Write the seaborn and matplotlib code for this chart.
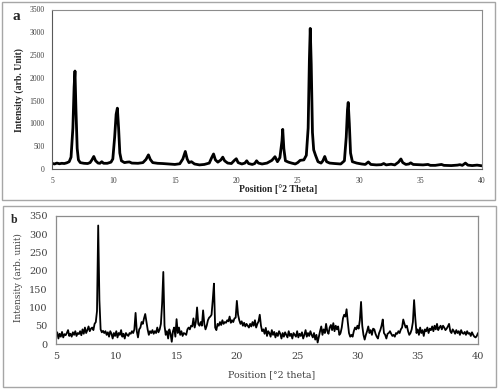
import numpy as np
import pandas as pd
import matplotlib
matplotlib.use("Agg")
import matplotlib.pyplot as plt
from matplotlib.patches import Rectangle
import seaborn as sns

# ---------------- Data: panel a (XRD pattern) ----------------
a_theta = [5.0, 5.2, 5.4, 5.6, 5.8, 6.0, 6.2, 6.4, 6.55, 6.7, 6.8, 6.87, 6.95, 7.05, 7.15, 7.3, 7.6, 7.9,
           8.1, 8.25, 8.4, 8.55, 8.75, 8.9, 9.05, 9.2, 9.5, 9.8, 9.95, 10.1, 10.22, 10.32, 10.42, 10.52,
           10.65, 10.9, 11.1, 11.3, 11.5, 12.0, 12.4, 12.65, 12.85, 13.0, 13.2, 13.6, 14.0, 14.5, 15.0,
           15.4, 15.65, 15.85, 16.0, 16.15, 16.35, 16.6, 17.0, 17.4, 17.8, 18.0, 18.15, 18.3, 18.5, 18.75,
           18.9, 19.05, 19.3, 19.6, 19.85, 20.0, 20.15, 20.45, 20.7, 20.85, 21.0, 21.3, 21.5, 21.65, 21.8,
           22.1, 22.5, 22.9, 23.15, 23.35, 23.55, 23.72, 23.78, 23.87, 24.0, 24.25, 24.5, 24.8, 25.0, 25.2,
           25.5, 25.7, 25.85, 25.95, 26.02, 26.1, 26.2, 26.3, 26.45, 26.65, 26.9, 27.05, 27.2, 27.35, 27.6,
           28.0, 28.5, 28.8, 28.95, 29.05, 29.11, 29.2, 29.3, 29.45, 29.8, 30.2, 30.5, 30.75, 30.95, 31.4,
           31.8, 32.0, 32.2, 32.6, 32.9, 33.2, 33.4, 33.55, 33.8, 34.05, 34.2, 34.4, 34.8, 35.2, 35.6, 35.8,
           36.2, 36.7, 36.9, 37.5, 38.0, 38.2, 38.4, 38.65, 38.85, 39.2, 39.6, 40.0]
a_intensity = [125, 110, 130, 115, 125, 120, 135, 160, 260, 900, 1800, 2150, 1300, 450, 200, 140, 125, 120,
               140, 200, 275, 180, 130, 125, 160, 125, 125, 150, 220, 700, 1200, 1335, 900, 350,
               180, 140, 150, 155, 130, 125, 140, 210, 310, 210, 140, 125, 120, 110, 100,
               115, 220, 385, 220, 140, 160, 110, 90, 100, 130, 250, 330, 200, 150, 200,
               260, 180, 130, 120, 190, 225, 140, 110, 130, 180, 120, 100, 120, 180, 130,
               110, 130, 190, 270, 160, 250, 620, 870, 450, 180, 150, 130, 110, 140, 190,
               200, 300, 900, 2400, 3085, 2300, 800, 420, 300, 160, 130, 180, 275, 160, 130,
               120, 110, 180, 700, 1300, 1460, 1000, 350, 160, 130, 110, 100, 155, 100, 90,
               95, 120, 90, 105, 90, 150, 220, 140, 100, 110, 135, 100, 95, 90, 100, 80,
               80, 100, 80, 75, 85, 95, 80, 130, 85, 75, 85, 70]

a_xticks = [5, 10, 15, 20, 25, 30, 35, 40]
a_yticks = [0, 500, 1000, 1500, 2000, 2500, 3000, 3500]

# ---------------- Data: panel b (XRD pattern, 0.1 deg step from 5 to 40) ----------------
b_theta = [round(5 + 0.1 * i, 1) for i in range(351)]
b_intensity = (
    [22, 32, 15, 28, 20, 33, 18, 27, 24, 30] +       # 5
    [38, 22, 28, 20, 32, 25, 35, 22, 30, 27] +       # 6
    [35, 24, 40, 28, 45, 30, 38, 48, 35, 42] +       # 7
    [45, 38, 55, 60, 90, 324, 120, 40, 32, 36] +     # 8
    [30, 35, 25, 32, 20, 35, 28, 15, 30, 22] +       # 9
    [35, 18, 30, 25, 38, 20, 28, 15, 30, 25] +       # 10
    [22, 30, 28, 35, 30, 40, 85, 35, 18, 40] +       # 11
    [45, 60, 55, 70, 82, 60, 40, 25, 35, 30] +       # 12
    [38, 28, 35, 30, 45, 32, 40, 55, 110, 197] +     # 13
    [50, 25, 35, 15, 40, 28, 6, 35, 45, 20] +        # 14
    [68, 30, 45, 25, 35, 22, 30, 28, 25, 40] +       # 15
    [45, 40, 50, 48, 70, 45, 60, 100, 55, 50] +      # 16
    [60, 50, 92, 55, 40, 50, 65, 72, 75, 80] +       # 17
    [120, 165, 45, 38, 55, 50, 60, 52, 65, 55] +     # 18
    [60, 58, 65, 62, 75, 58, 65, 60, 70, 72] +       # 19
    [118, 80, 65, 55, 62, 50, 58, 48, 55, 50] +      # 20
    [45, 55, 48, 60, 50, 65, 45, 55, 62, 80] +       # 21
    [50, 35, 40, 28, 44, 22, 35, 30, 20, 38] +       # 22
    [25, 33, 18, 30, 22, 35, 28, 15, 30, 20] +       # 23
    [32, 25, 18, 35, 22, 28, 15, 30, 25, 20] +       # 24
    [35, 18, 28, 22, 32, 15, 25, 38, 20, 30] +       # 25
    [22, 35, 25, 18, 30, 12, 25, 4, 20, 35] +        # 26
    [48, 25, 40, 30, 55, 35, 28, 45, 52, 38] +       # 27
    [57, 35, 50, 40, 48, 25, 30, 45, 70, 80] +       # 28
    [75, 95, 60, 30, 20, 25, 20, 35, 45, 40] +       # 29
    [50, 42, 65, 115, 50, 25, 12, 25, 35, 48] +      # 30
    [30, 38, 25, 42, 40, 28, 20, 15, 30, 38] +       # 31
    [50, 67, 30, 25, 15, 28, 30, 35, 28, 22] +       # 32
    [25, 20, 30, 28, 35, 30, 40, 45, 67, 55] +       # 33
    [45, 50, 35, 25, 30, 40, 60, 120, 70, 30] +      # 34
    [40, 25, 45, 30, 38, 22, 40, 35, 45, 30] +       # 35
    [42, 38, 48, 35, 50, 40, 55, 38, 45, 50] +       # 36
    [40, 50, 45, 38, 42, 48, 55, 35, 30, 40] +       # 37
    [35, 28, 38, 30, 35, 25, 38, 30, 28, 33] +       # 38
    [25, 35, 28, 30, 22, 32, 25, 20, 18, 22] +       # 39
    [30]                                              # 40
)

b_xticks = [5, 10, 15, 20, 25, 30, 35, 40]
b_yticks = [0, 50, 100, 150, 200, 250, 300, 350]

# ---------------- Figure ----------------
sns.set_style("white")
plt.rcParams['font.family'] = ['Liberation Serif', 'DejaVu Serif']

W, H = 500, 391
fig = plt.figure(figsize=(W / 100, H / 100), dpi=100)


def fx(px):
    return px / W


def fy(py):
    return 1 - py / H


# panel borders
for (x0, y0, x1, y1) in [(2, 2, 495, 200), (3, 206, 496, 387)]:
    fig.add_artist(Rectangle((fx(x0), fy(y1)), fx(x1) - fx(x0), fy(y0) - fy(y1),
                             transform=fig.transFigure, fill=False,
                             edgecolor='#a6a6a6', linewidth=1.0))

# ---- panel a ----
axa = fig.add_axes([fx(52), fy(169), fx(482) - fx(52), fy(9.5) - fy(169)])
dfa = pd.DataFrame({'theta': a_theta, 'I': a_intensity})
sns.lineplot(data=dfa, x='theta', y='I', ax=axa, color='black', linewidth=2.0,
             estimator=None, sort=False)
axa.set_xlim(5, 40)
axa.set_ylim(0, 3500)
axa.set_xticks(a_xticks)
axa.set_yticks(a_yticks)
axa.set_xlabel('')
axa.set_ylabel('')
axa.tick_params(axis='both', which='major', labelsize=5.5, colors='#404040',
                direction='out', length=2.5, width=0.6, pad=3)
for s in axa.spines.values():
    s.set_color('#8c8c8c')
    s.set_linewidth(0.8)
axa.spines['left'].set_color('#595959')
axa.spines['bottom'].set_color('#595959')

fig.text(fx(16), fy(17), 'a', fontsize=11, fontweight='bold', ha='center', va='center')
fig.text(fx(19), fy(90), 'Intensity (arb. Unit)', fontsize=7, fontweight='bold',
         rotation=90, ha='center', va='center')
fig.text(fx(278), fy(189), 'Position [°2 Theta]', fontsize=7, fontweight='bold',
         ha='center', va='center')

# ---- panel b ----
axb = fig.add_axes([fx(56), fy(344), fx(478) - fx(56), fy(216) - fy(344)])
dfb = pd.DataFrame({'theta': b_theta, 'I': b_intensity})
sns.lineplot(data=dfb, x='theta', y='I', ax=axb, color='black', linewidth=1.3,
             estimator=None, sort=False)
axb.set_xlim(5, 40)
axb.set_ylim(0, 350)
axb.set_xticks(b_xticks)
axb.set_yticks(b_yticks)
axb.set_xlabel('')
axb.set_ylabel('')
for lab in axb.get_xticklabels() + axb.get_yticklabels():
    lab.set_family(['DejaVu Serif'])
axb.tick_params(axis='both', which='major', labelsize=7, colors='#404040',
                length=0, pad=6)
for s in axb.spines.values():
    s.set_color('#8c8c8c')
    s.set_linewidth(0.9)

fig.text(fx(14), fy(220), 'b', fontsize=8.5, fontweight='bold', ha='center', va='center')
fig.text(fx(18), fy(278), 'Intensity (arb. unit)', fontsize=6.4, color='#404040',
         family=['DejaVu Serif'], rotation=90, ha='center', va='center')
fig.text(fx(272), fy(375), 'Position [°2 theta]', fontsize=6.8, color='#404040',
         family=['DejaVu Serif'], ha='center', va='center')

fig.savefig('out.png', dpi=100)
